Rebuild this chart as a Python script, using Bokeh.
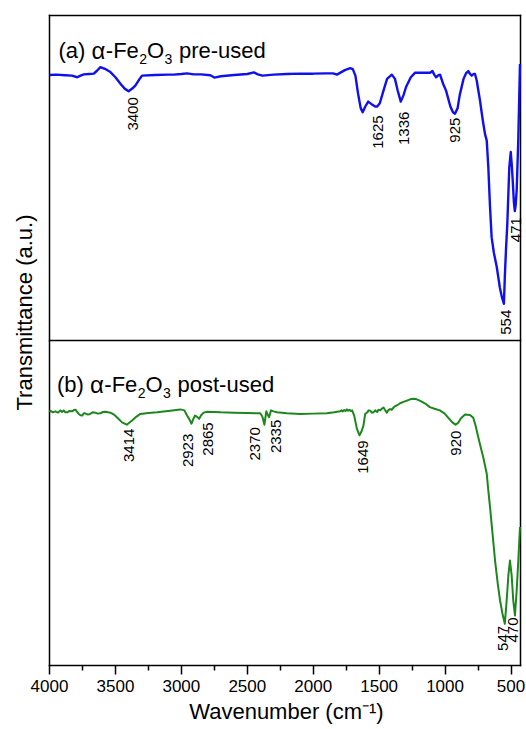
import math
import numpy as np
from bokeh.plotting import figure
from bokeh.models import Range1d, FixedTicker, ColumnDataSource
from bokeh.core.properties import value
from bokeh.embed import file_html
from bokeh.resources import INLINE

# FTIR spectra: (wavenumber cm^-1, transmittance a.u. within its own panel, 0-100)
spectrum_pre = [
    (4000, 81.7), (3950, 81.8), (3880, 81.6), (3830, 81.5), (3790, 81.0), (3765, 81.5),
    (3740, 81.9), (3700, 82.0), (3664, 82.1), (3640, 83.0), (3614, 84.1), (3580, 83.6),
    (3538, 82.6), (3500, 81.0), (3462, 79.0), (3430, 77.5), (3400, 76.7), (3370, 77.6),
    (3348, 78.5), (3320, 80.3), (3298, 81.5), (3200, 81.7), (3100, 81.8), (3058, 81.8),
    (3000, 82.0), (2957, 82.2), (2907, 81.9), (2850, 81.9), (2780, 81.6), (2750, 80.9),
    (2700, 81.3), (2600, 81.7), (2500, 82.0), (2450, 82.5), (2420, 81.9), (2385, 81.5),
    (2300, 81.8), (2200, 82.0), (2100, 82.1), (2000, 82.1), (1900, 82.2), (1850, 82.2),
    (1820, 81.8), (1790, 82.5), (1760, 83.2), (1720, 83.8), (1700, 83.5), (1680, 81.5),
    (1660, 76.0), (1640, 71.5), (1625, 70.2), (1605, 72.0), (1583, 73.5), (1560, 72.8),
    (1530, 72.0), (1515, 72.0), (1495, 73.0), (1470, 76.5), (1440, 80.5), (1404, 81.8),
    (1380, 80.5), (1360, 77.0), (1336, 73.5), (1315, 75.5), (1296, 78.0), (1260, 81.0),
    (1227, 82.4), (1180, 82.4), (1114, 82.4), (1096, 82.9), (1082, 81.8), (1068, 81.0),
    (1052, 81.6), (1038, 81.8), (1015, 79.0), (992, 76.8), (960, 72.0), (940, 70.2),
    (925, 69.8), (905, 71.5), (889, 75.5), (860, 80.5), (840, 82.3), (824, 82.9),
    (810, 82.0), (798, 81.5), (785, 82.0), (773, 82.0), (760, 80.0), (748, 77.0),
    (735, 73.8), (722, 70.0), (710, 66.7), (697, 63.5), (684, 61.5), (672, 53.3),
    (659, 41.0), (647, 31.8), (630, 27.0), (608, 22.6), (585, 16.4), (570, 13.5),
    (554, 11.3), (546, 20.5), (538, 28.0), (528, 35.9), (513, 53.3), (502, 58.0),
    (494, 54.0), (487, 49.2), (478, 42.5), (471, 39.8), (465, 41.5), (457, 46.2),
    (445, 61.5), (432, 85.1),
]

spectrum_post = [
    (4000, 78.0), (3992, 78.4), (3975, 77.9), (3955, 78.2), (3935, 77.8), (3917, 78.5),
    (3905, 78.0), (3892, 78.5), (3880, 77.9), (3866, 77.9), (3850, 78.3), (3828, 78.2),
    (3815, 78.6), (3803, 78.7), (3790, 78.0), (3778, 77.4), (3765, 77.0), (3752, 76.9),
    (3740, 77.6), (3730, 77.6), (3710, 77.2), (3692, 77.4), (3672, 77.9), (3652, 77.8),
    (3635, 77.5), (3614, 77.6), (3595, 78.0), (3576, 78.1), (3555, 77.9), (3538, 77.8),
    (3510, 77.2), (3487, 76.3), (3450, 74.8), (3414, 74.1), (3374, 75.4), (3340, 76.6),
    (3311, 77.4), (3250, 77.7), (3184, 77.9), (3100, 78.3), (3008, 78.8), (2977, 78.5),
    (2957, 76.9), (2940, 75.8), (2923, 74.4), (2910, 75.8), (2896, 76.9), (2880, 76.5),
    (2865, 75.9), (2850, 77.0), (2831, 77.8), (2805, 78.1), (2700, 77.9), (2600, 77.8),
    (2500, 77.7), (2402, 77.6), (2386, 76.6), (2370, 74.1), (2356, 78.2), (2346, 77.3),
    (2335, 76.4), (2320, 78.5), (2300, 78.2), (2275, 77.9), (2200, 77.6), (2098, 77.4),
    (2000, 77.5), (1896, 77.6), (1840, 77.9), (1796, 78.2), (1785, 78.5), (1775, 78.2),
    (1765, 78.6), (1755, 78.3), (1745, 78.8), (1735, 78.4), (1725, 78.7), (1715, 78.3),
    (1705, 78.5), (1689, 76.9), (1669, 72.9), (1649, 70.8), (1634, 72.0), (1619, 73.8),
    (1606, 77.4), (1590, 77.9), (1580, 78.5), (1568, 78.4), (1555, 77.8), (1543, 77.9),
    (1530, 78.5), (1515, 78.0), (1505, 78.7), (1492, 78.5), (1480, 79.0), (1467, 79.4),
    (1455, 78.6), (1442, 77.8), (1430, 78.6), (1418, 78.9), (1405, 78.7), (1392, 79.3),
    (1380, 79.8), (1366, 80.0), (1341, 80.7), (1315, 81.1), (1290, 81.5), (1265, 81.9),
    (1240, 82.1), (1215, 81.9), (1192, 81.5), (1150, 80.6), (1116, 79.5), (1080, 79.0),
    (1040, 78.5), (1005, 77.6), (975, 76.2), (945, 74.8), (920, 74.1), (900, 74.7),
    (881, 76.0), (849, 77.2), (811, 77.1), (786, 76.2), (770, 74.0), (748, 70.2),
    (735, 68.0), (710, 64.0), (684, 59.0), (672, 53.8), (659, 48.7), (640, 40.5),
    (621, 32.3), (600, 25.0), (583, 20.0), (565, 16.0), (547, 12.8), (533, 20.0),
    (520, 27.7), (508, 32.3), (495, 27.7), (483, 20.0), (470, 15.4), (457, 23.0),
    (445, 32.0), (432, 42.6),
]

# Band positions annotated in each panel (cm^-1)
peaks_pre = [3400, 1625, 1336, 925, 554, 471]
peaks_post = [3414, 2923, 2865, 2370, 2335, 1649, 920, 547, 470]

# Wavenumber axis ticks (cm^-1)
major_ticks = [4000, 3500, 3000, 2500, 2000, 1500, 1000, 500]
minor_ticks = [3750, 3250, 2750, 2250, 1750, 1250, 750]

# Axis limits of the plotted box
WN_LEFT, WN_RIGHT = 4000, 428
T_BOTTOM, T_TOP = 0, 200

# Page geometry (pixels): where the box edges sit, and the drawing area around it
W, H = 526, 729
BOX_L, BOX_R, BOX_T, BOX_B = 49, 520, 15, 665
AREA_L, AREA_R, AREA_T, AREA_B = 0, 523, 12, 668
KX = (BOX_R - BOX_L) / (WN_LEFT - WN_RIGHT)
KY = (BOX_B - BOX_T) / (T_TOP - T_BOTTOM)


def wn_at(px):
    return WN_LEFT - (px - BOX_L) / KX


def y_at(py):
    return T_BOTTOM + (BOX_B - py) / KY


FONT = "Liberation Sans"
BLUE = "#1010ee"
GREEN = "#1c871c"

p = figure(width=W, height=H,
           x_range=Range1d(wn_at(AREA_L), wn_at(AREA_R)),
           y_range=Range1d(y_at(AREA_B), y_at(AREA_T)),
           output_backend="svg", toolbar_location=None, y_axis_location=None,
           min_border_left=AREA_L, min_border_right=W - AREA_R,
           min_border_top=AREA_T, min_border_bottom=H - AREA_B)
p.background_fill_color = "white"
p.border_fill_color = "white"
p.outline_line_color = None
p.xgrid.visible = False
p.ygrid.visible = False

ax = p.xaxis[0]
ax.ticker = FixedTicker(ticks=major_ticks, minor_ticks=minor_ticks)
ax.axis_line_color = None
ax.major_tick_line_width = 1.5
ax.minor_tick_line_width = 1.5
ax.major_tick_in = 3
ax.major_tick_out = 6
ax.minor_tick_in = 3
ax.minor_tick_out = 2
ax.major_label_text_font = FONT
ax.major_label_text_font_size = "17px"
ax.major_label_text_color = "black"
ax.major_label_standoff = 5
# no-break spaces move the centred title under the middle of the box
ax.axis_label = "\u00a0" * 8 + "Wavenumber (cm\u207b\u00b9)"
ax.axis_label_text_font = FONT
ax.axis_label_text_font_size = "22px"
ax.axis_label_text_font_style = "normal"
ax.axis_label_text_color = "black"
ax.axis_label_standoff = 4

# box around both panels and the divider between them
p.segment(x0=[WN_LEFT, WN_RIGHT, WN_LEFT, WN_LEFT, WN_LEFT],
          y0=[T_BOTTOM, T_BOTTOM, T_TOP, T_BOTTOM, (T_TOP + T_BOTTOM) / 2],
          x1=[WN_LEFT, WN_RIGHT, WN_RIGHT, WN_RIGHT, WN_RIGHT],
          y1=[T_TOP, T_TOP, T_TOP, T_BOTTOM, (T_TOP + T_BOTTOM) / 2],
          line_color="black", line_width=1.5, line_cap="square")

panels = [
    (spectrum_pre, 100, BLUE, 2.4, peaks_pre,
     [4, 15, 3, 0, 2, 1], [6, 3, 10, 4, 6, 6]),
    (spectrum_post, 0, GREEN, 2.0, peaks_post,
     [2, -3.5, 8.5, -9, 7, 3, 0, -1.5, -1.7], [4, 10, 3.5, 2.5, 2.5, 5, 6, 2, 2]),
]

for spectrum, base, color, lw, peaks, dx, gap in panels:
    wn = np.array([s[0] for s in spectrum], dtype=float)
    tr = np.array([s[1] for s in spectrum], dtype=float) + base
    p.line(wn, tr, line_color=color, line_width=lw, line_join="round")

    t_peak = np.interp(peaks, wn[::-1], tr[::-1])
    src = ColumnDataSource(dict(
        x=[pk - d / KX for pk, d in zip(peaks, dx)],
        y=[t - g / KY for t, g in zip(t_peak, gap)],
        text=[str(pk) for pk in peaks],
    ))
    p.text(x="x", y="y", text="text", source=src, angle=math.pi / 2,
           text_align="right", text_baseline="middle",
           text_font=value(FONT), text_font_size=value("15px"), text_color="black")

# panel captions, pieced together so that alpha and the subscripts get their own sizes
captions = [
    (50, 58.0, "(a)", "pre-used"),
    (384, 56.5, "(b)", "post-used"),
]
for base_py, left, tag, tail in captions:
    fe_start = left + 47.3
    fe_end = fe_start + 33.0
    pieces = [
        (tag, left, base_py, "22px", "left"),
        ("\u03b1", left + 33.0, base_py, "24px", "left"),
        ("-Fe", fe_start, base_py, "22px", "left"),
        ("2", fe_end + 0.4, base_py + 8, "14px", "left"),
        ("O", fe_end + 8.3, base_py, "22px", "left"),
        ("3", fe_end + 25.8, base_py + 8, "14px", "left"),
        (tail, fe_end + 40.2, base_py, "22px", "left"),
    ]
    for txt, px, py, size, align in pieces:
        p.text(x=[wn_at(px)], y=[y_at(py)], text=[txt], text_align=align,
               text_baseline="alphabetic", text_font=value(FONT),
               text_font_size=value(size), text_color="black")

# vertical title of the transmittance scale
p.text(x=[wn_at(24)], y=[y_at(312)], text=["Transmittance (a.u.)"], angle=math.pi / 2,
       text_align="center", text_baseline="middle", text_font=value(FONT),
       text_font_size=value("22px"), text_color="black")

open("out.html", "w").write(file_html(p, INLINE))
